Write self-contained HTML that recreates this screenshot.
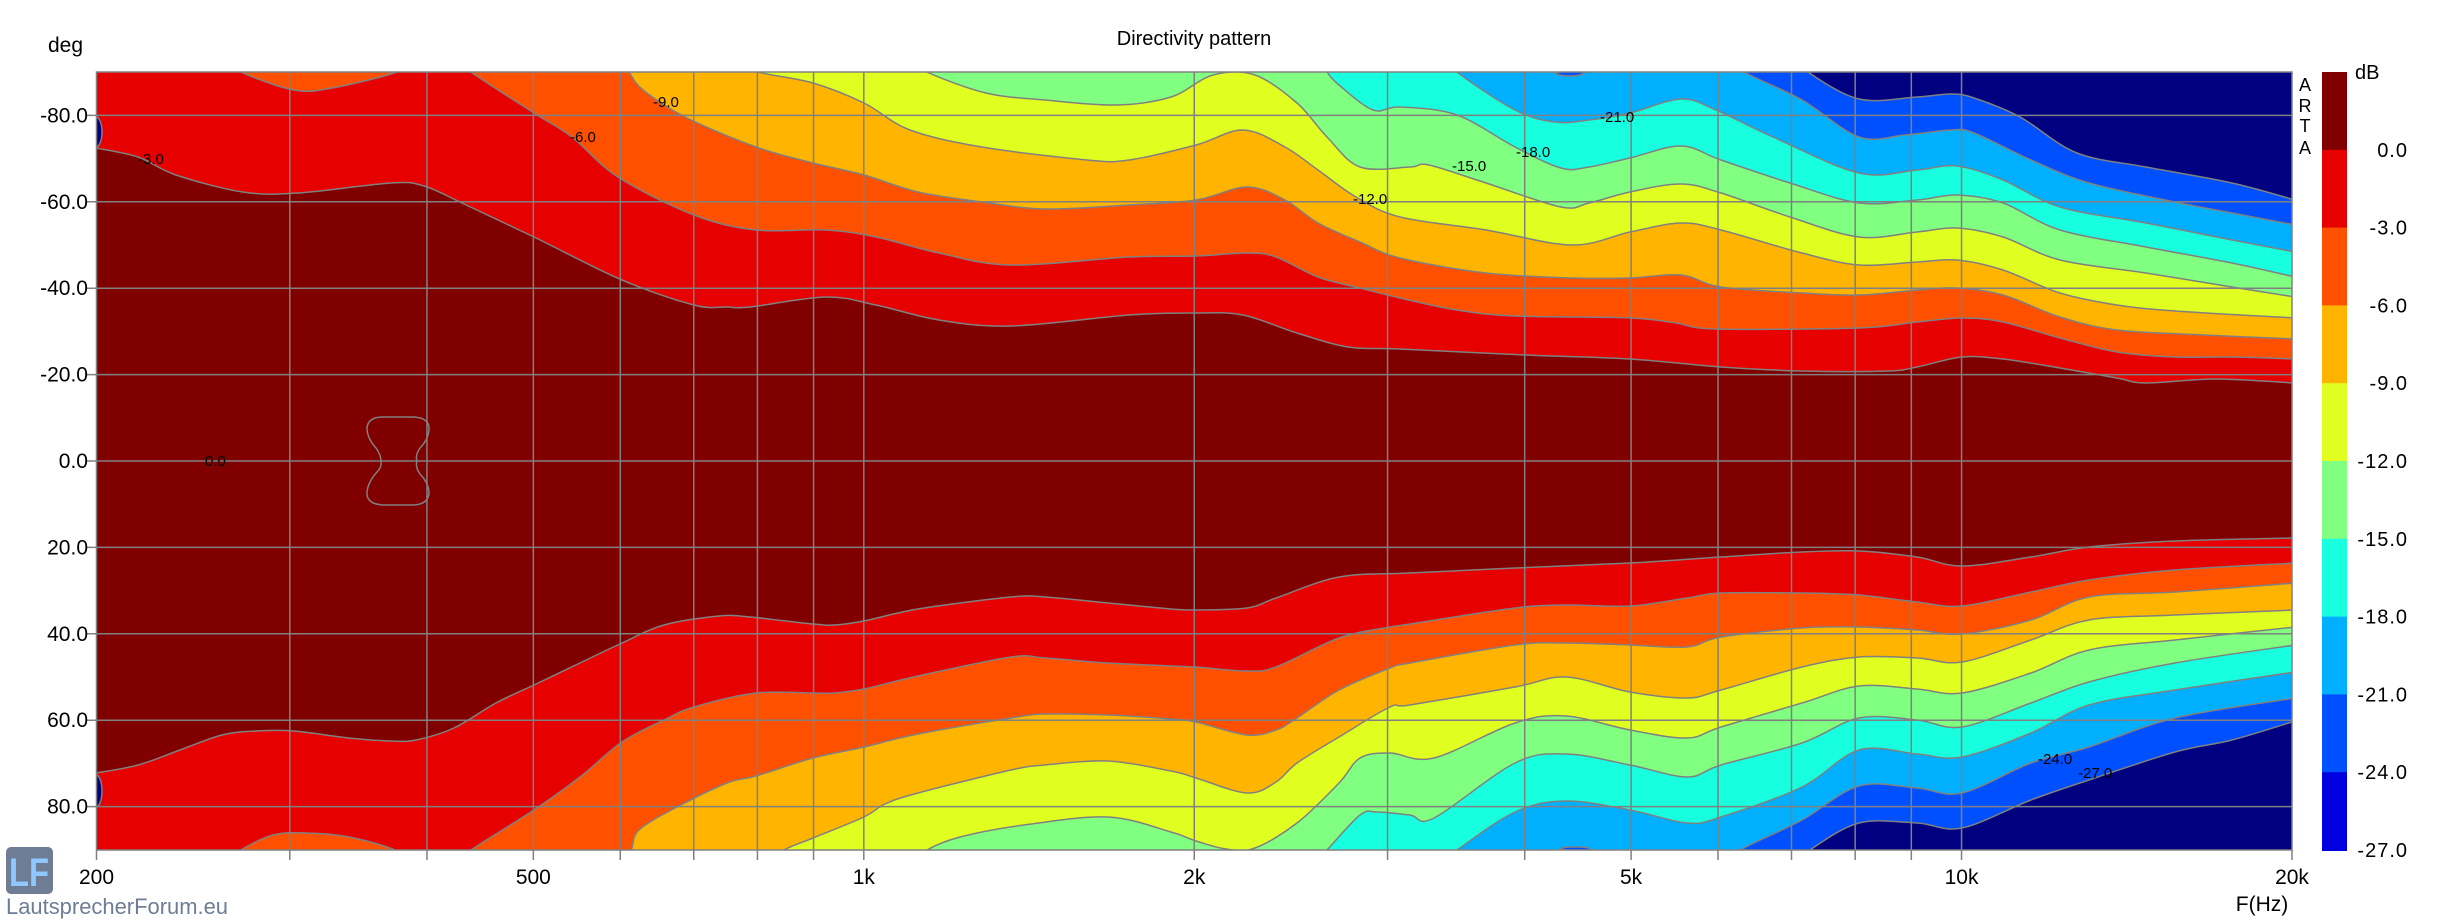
<!DOCTYPE html>
<html><head><meta charset="utf-8">
<style>
html,body{margin:0;padding:0;background:#fff;}
svg{display:block;}
text{font-family:"Liberation Sans",Arial,sans-serif;}
</style></head>
<body>
<svg id="s" width="2442" height="922" viewBox="0 0 2442 922" xmlns="http://www.w3.org/2000/svg">
<defs><clipPath id="pc"><rect x="96.5" y="72" width="2195.5" height="778"/></clipPath></defs>
<rect x="96.5" y="72" width="2195.5" height="778" fill="#000080"/>
<g id="cont" clip-path="url(#pc)"></g>
<g clip-path="url(#pc)">
<ellipse cx="96" cy="132" rx="6" ry="15" fill="#000080" stroke="#808080" stroke-width="1.5"/>
<ellipse cx="96" cy="791" rx="6" ry="16" fill="#000080" stroke="#808080" stroke-width="1.5"/>
<path d="M383,417 L414,417 Q430,418 429,430 Q428,440 420,448 Q415,455 417,461 Q415,467 420,474 Q428,482 429,492 Q429,504 414,505 L383,505 Q366,504 367,492 Q368,482 377,472 Q382,467 381,461 Q381,455 376,448 Q367,438 367,428 Q368,417 383,417 Z" fill="none" stroke="#808080" stroke-width="1.5"/>
</g>
<g id="grid" stroke="#808080" stroke-width="1.5" fill="none"></g>
<rect x="96.5" y="72" width="2195.5" height="778" fill="none" stroke="#808080" stroke-width="1.5"/>
<g font-size="15" fill="#000">
<text x="138" y="164">-3.0</text>
<text x="570" y="142">-6.0</text>
<text x="653" y="107">-9.0</text>
<text x="1353" y="204">-12.0</text>
<text x="1452" y="171">-15.0</text>
<text x="1516" y="157">-18.0</text>
<text x="1600" y="122">-21.0</text>
<text x="2038" y="764">-24.0</text>
<text x="2078" y="778">-27.0</text>
<text x="205" y="466">0.0</text>
</g>
<text x="1194" y="45" font-size="20" text-anchor="middle">Directivity pattern</text>
<text x="48" y="52" font-size="21">deg</text>
<g id="ylab" font-size="21" text-anchor="end"></g>
<g id="xlab" font-size="21" text-anchor="middle"></g>
<text x="2262" y="911" font-size="21" text-anchor="middle">F(Hz)</text>
<g font-size="18" text-anchor="middle">
<text x="2305" y="91">A</text><text x="2305" y="112">R</text><text x="2305" y="132">T</text><text x="2305" y="154">A</text>
</g>
<g id="cbar"></g>
<text x="2355" y="79" font-size="20">dB</text>
<g id="cblab" font-size="20" text-anchor="end" letter-spacing="1"></g>
<rect x="6" y="847" width="47" height="47" rx="5" fill="#6e7d94"/>
<text x="29" y="886" font-size="40" font-weight="bold" fill="#8ec8ff" text-anchor="middle" textLength="40" lengthAdjust="spacingAndGlyphs">LF</text>
<text x="6" y="914" font-size="22" fill="#6e7d94" textLength="222" lengthAdjust="spacingAndGlyphs">LautsprecherForum.eu</text>
</svg>
<script>
var NS="http://www.w3.org/2000/svg";
function P(s){return s.trim().split(/\s*,\s*/).map(function(p){var a=p.split(':');return [+a[0],+a[1]];});}
var T={
"-3":"96:148,138:157,176:175,243:192,298:193,391:183,424:186,462:203,534:237,622:280,694:305,727:307,750:307,826:297,876:305,939:320,1011:326,1129:315,1196:313,1243:315,1297:333,1348:347,1400:349,1526:355,1630:359,1721:367,1802:371,1888:371,1917:367,1962:357,2003:359,2060:368,2117:378,2146:383,2215:379,2295:383",
"-6":"90:60,230:60,241:72,294:90,332:88,397:72,410:60,460:60,471:72,534:113,572:137,618:177,694:215,756:230,826:230,876:237,939:253,1011:265,1129:257,1196:256,1247:253,1276:257,1318:277,1360:288,1400:298,1457:310,1515:316,1630:318,1676:323,1716:329,1859:328,1917:322,1962:318,2003:322,2060:338,2117:352,2175:357,2232:357,2295:359",
"-9":"90:60,620:60,629:72,643:90,685:117,756:147,813:163,864:175,918:192,982:202,1045:209,1129:205,1196:200,1247:187,1285:200,1318:223,1360:242,1400:258,1486:273,1572:278,1630:278,1681:275,1721:287,1802:293,1859:295,1917:290,1957:288,2003:295,2060:317,2117:330,2204:335,2295:339",
"-12":"90:60,730:60,758:72,813:83,864:103,910:130,982:147,1087:160,1129:160,1196:145,1243:130,1285:147,1318:170,1356:197,1400:217,1486:230,1572:245,1630:232,1681:223,1721:230,1802:253,1859:265,1917:262,1957:260,2003:270,2060:293,2117:305,2175:311,2295:318",
"-15":"90:60,915:60,927:72,986:93,1045:100,1116:105,1171:97,1213:75,1255:75,1297:103,1327:137,1360:167,1410:167,1429:165,1486:183,1561:207,1589:203,1630:192,1681:184,1721:193,1790:217,1859:237,1917:232,1957:228,2003:237,2060:260,2146:273,2232:287,2295:297",
"-18":"90:60,1320:60,1327:72,1339:85,1373:110,1400:107,1457:115,1515:147,1561:168,1589:167,1630:158,1681:146,1721:160,1790:183,1859:203,1917:200,1957:195,2003:203,2060:230,2146:247,2232:263,2295:277",
"-21":"90:60,1450:60,1457:72,1515:110,1555:122,1589:120,1630:113,1681:99,1716:110,1773:137,1859:173,1917:170,1957:166,2003:180,2060:207,2146:223,2232:240,2295:252",
"-24":"90:60,1550:60,1555:73,1570:76,1584:73,1590:60,1735:60,1744:72,1802:100,1859:137,1905:135,1951:130,1974:133,2031:160,2089:183,2175:202,2232:213,2295:225",
"-27":"90:60,1800:60,1808:72,1859:99,1917:97,1951:94,1974:98,2020:117,2077:153,2146:167,2232:183,2295:200"};
var B={
"-3":"96:773,138:765,180:750,222:735,256:731,294:731,349:738,391:741,416:740,454:728,496:703,534:685,580:663,622:643,664:625,719:616,750:617,813:624,834:625,864:621,918:609,1011:597,1045:597,1108:603,1171:609,1196:610,1247:608,1276:598,1339:577,1410:573,1515:568,1630:563,1721:557,1802:552,1859:551,1917:557,1962:566,2031:557,2089:547,2175:541,2295:538",
"-6":"90:862,230:862,241:850,273:835,306:833,349:837,395:850,405:862,460:862,471:850,534:810,580:777,622:742,664:720,694:707,756:693,813:693,834:693,864:689,918:676,1011:657,1045:658,1108:663,1171:666,1196:667,1247:671,1276:667,1339:638,1390:627,1410:624,1515:608,1566:605,1630:606,1687:598,1721:593,1802:593,1859:595,1917:602,1962:606,2031:592,2089:580,2175:570,2295:563",
"-9":"90:862,620:862,631:850,639:830,677:807,727:783,756:776,813:758,864:747,918:734,1011:718,1045:714,1108:715,1171:719,1196:722,1247:735,1276:730,1297:718,1339:690,1390:668,1410:663,1515:645,1566:643,1630:645,1687:647,1721:637,1802:628,1859:627,1917:630,1962:634,2031:620,2089:597,2175:592,2295:583",
"-12":"90:862,770:862,784:850,813:838,864:817,885:804,918:793,1011:770,1045:765,1108:761,1171:771,1196:778,1247:793,1276:782,1297:763,1339:737,1390:707,1410:705,1515:687,1566:677,1630:692,1687:698,1721:690,1802:667,1859:657,1917:658,1962:662,2031:640,2089:620,2175:615,2295:610",
"-15":"90:862,915:862,927:850,960:837,1024:825,1108:817,1171:832,1196:841,1226:849,1255:848,1297:823,1339:783,1360:758,1390:753,1434:758,1515:723,1566:716,1630:730,1687:738,1721:727,1802:703,1859:686,1917:689,1962:693,2031:673,2089:650,2175:640,2295:627",
"-18":"90:862,1315:862,1327:850,1360:815,1377:812,1410:815,1434:818,1515:763,1566:754,1630:765,1687:777,1721:765,1802:743,1859:718,1917:720,1962:727,2031:703,2089:682,2175:663,2295:645",
"-21":"90:862,1440:862,1457:850,1515:812,1566:801,1630:810,1687:823,1721:817,1802:787,1859:750,1917:754,1962:757,2031:733,2089:705,2175:690,2295:672",
"-24":"90:862,1555:862,1560:849,1575:847,1590:849,1595:862,1730:862,1740:850,1802:820,1859:786,1917:788,1962:793,2031:763,2089:747,2175:718,2295:698",
"-27":"90:862,1800:862,1810:850,1859:823,1917:823,1962:828,2031:800,2089:780,2175:752,2232:740,2295:721"};
var C={"-27":"#0050ff","-24":"#00b0ff","-21":"#18ffe0","-18":"#80ff80","-15":"#e0ff20","-12":"#ffb400","-9":"#ff5000","-6":"#e60000","-3":"#800000"};
function smooth(pts){var d="M"+pts[0][0]+","+pts[0][1];for(var i=0;i<pts.length-1;i++){var p0=pts[i-1]||pts[i],p1=pts[i],p2=pts[i+1],p3=pts[i+2]||p2;
var c1=[p1[0]+(p2[0]-p0[0])/6,p1[1]+(p2[1]-p0[1])/6],c2=[p2[0]-(p3[0]-p1[0])/6,p2[1]-(p3[1]-p1[1])/6];
d+=" C"+c1[0].toFixed(1)+","+c1[1].toFixed(1)+" "+c2[0].toFixed(1)+","+c2[1].toFixed(1)+" "+p2[0]+","+p2[1];}return d;}
var g=document.getElementById("cont");
["-27","-24","-21","-18","-15","-12","-9","-6","-3"].forEach(function(k){
var t=P(T[k]),b=P(B[k]).reverse();
var d=smooth(t)+" L"+b[0][0]+","+b[0][1]+" "+smooth(b).substring(1).replace(/^[^C]*/,"")+" Z";
var p=document.createElementNS(NS,"path");p.setAttribute("d",d);p.setAttribute("fill",C[k]);p.setAttribute("stroke","#808080");p.setAttribute("stroke-width","1.5");g.appendChild(p);});
var gr=document.getElementById("grid");
function ln(x1,y1,x2,y2){var l=document.createElementNS(NS,"line");l.setAttribute("x1",x1);l.setAttribute("y1",y1);l.setAttribute("x2",x2);l.setAttribute("y2",y2);gr.appendChild(l);}
function fx(f){return 96.5+Math.log10(f/200)*1097.75;}
var fr=[300,400,500,600,700,800,900,1000,2000,3000,4000,5000,6000,7000,8000,9000,10000];
fr.forEach(function(f){var x=fx(f);ln(x,72,x,860);});
ln(96.5,850,96.5,860);ln(2292,850,2292,860);
var yl=document.getElementById("ylab");
for(var d=-80;d<=80;d+=20){var y=461+d*4.32;ln(86,y,2292,y);var t=document.createElementNS(NS,"text");t.setAttribute("x",88);t.setAttribute("y",y+7);t.textContent=d.toFixed(1);yl.appendChild(t);}
var xl=document.getElementById("xlab");
[[200,"200"],[500,"500"],[1000,"1k"],[2000,"2k"],[5000,"5k"],[10000,"10k"],[20000,"20k"]].forEach(function(a){var t=document.createElementNS(NS,"text");t.setAttribute("x",fx(a[0]));t.setAttribute("y",884);t.textContent=a[1];xl.appendChild(t);});
var cb=document.getElementById("cbar"),cl=document.getElementById("cblab");
var cc=["#800000","#e60000","#ff5000","#ffb400","#e0ff20","#80ff80","#18ffe0","#00b0ff","#0050ff","#0000e0"];
for(var i=0;i<10;i++){var r=document.createElementNS(NS,"rect");r.setAttribute("x",2322);r.setAttribute("y",72+i*77.8);r.setAttribute("width",25);r.setAttribute("height",78.8);r.setAttribute("fill",cc[i]);cb.appendChild(r);
var t=document.createElementNS(NS,"text");t.setAttribute("x",2408);t.setAttribute("y",72+(i+1)*77.8+7);t.textContent=(-(i)*3).toFixed(1).replace("-0.0","0.0");if(i==0)t.textContent="0.0";cl.appendChild(t);}
</script>
</body></html>
